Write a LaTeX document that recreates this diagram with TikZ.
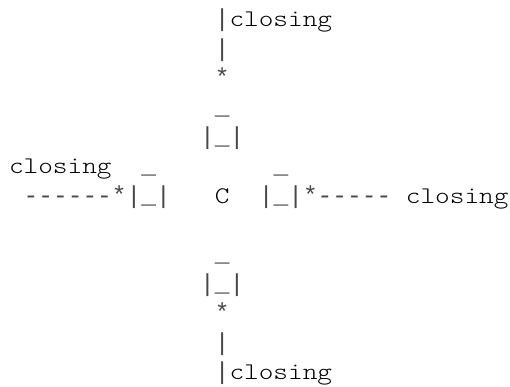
\documentclass[tikz,border=0pt]{standalone}
\usepackage{fontspec}
\setmonofont{Liberation Mono}
\newfontfamily\lmlight{lmmonolt10-regular}[Extension=.otf,FakeStretch=1.17]
\begin{document}
\begin{tikzpicture}[x=0.75pt,y=-0.75pt,
  asc/.style={anchor=base west,inner sep=0pt,outer sep=0pt,text=black!72,font=\ttfamily\fontsize{18.38}{22}\selectfont},
  word/.style={anchor=base west,inner sep=0pt,outer sep=0pt,font=\lmlight\fontsize{17.9}{22}\selectfont}]
\useasboundingbox (0,0) rectangle (510,386);
\def\cw{14.7}
\def\lh{29.4}
\def\bl{26.6}
% line 1-5 (top branch)
\node[asc]  (t1)  at ({9+14*\cw},{\bl+0*\lh}) {|};
\node[word] (t1w) at ({9+15*\cw},{\bl+0*\lh}) {closing};
\node[asc]  (t2)  at ({9+14*\cw},{\bl+1*\lh}) {|};
\node[asc]  (t3)  at ({9+14*\cw},{\bl+2*\lh}) {*};
\node[asc]  (t4)  at ({9+14*\cw},{\bl+3*\lh}) {\_};
\node[asc]  (t5)  at ({9+13*\cw},{\bl+4*\lh}) {|\_|};
% line 6
\node[word] (l6a) at ({9+0*\cw},{\bl+5*\lh}) {closing};
\node[asc]  (l6b) at ({9+9*\cw},{\bl+5*\lh}) {\_};
\node[asc]  (l6c) at ({9+18*\cw},{\bl+5*\lh}) {\_};
% line 7
\node[asc]  (l7a) at ({9+1*\cw},{\bl+6*\lh}) {------*|\_|};
\node[word] (c)   at ({9+14*\cw},{\bl+6*\lh}) {C};
\node[asc]  (l7b) at ({9+17*\cw},{\bl+6*\lh}) {|\_|*-----};
\node[word] (l7c) at ({9+27*\cw},{\bl+6*\lh}) {closing};
% lines 9-13 (bottom branch)
\node[asc]  (b9)  at ({9+14*\cw},{\bl+8*\lh}) {\_};
\node[asc]  (b10) at ({9+13*\cw},{\bl+9*\lh}) {|\_|};
\node[asc]  (b11) at ({9+14*\cw},{\bl+10*\lh}) {*};
\node[asc]  (b12) at ({9+14*\cw},{\bl+11*\lh}) {|};
\node[asc]  (b13) at ({9+14*\cw},{\bl+12*\lh}) {|};
\node[word] (b13w) at ({9+15*\cw},{\bl+12*\lh}) {closing};
\end{tikzpicture}
\end{document}
